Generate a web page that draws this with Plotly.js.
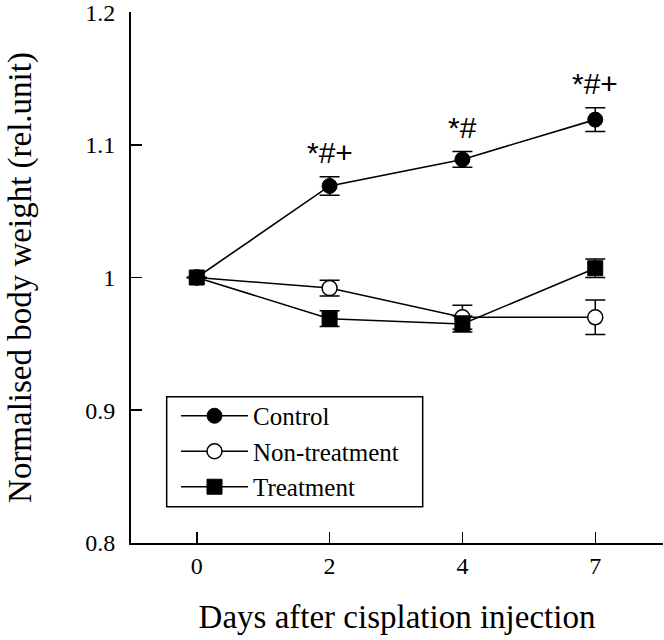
<!DOCTYPE html>
<html>
<head>
<meta charset="utf-8">
<script src="https://cdn.plot.ly/plotly-3.0.1.min.js"></script>
<style>html,body{margin:0;padding:0;background:#fff;}#chart{width:664px;height:640px;}</style>
</head>
<body>
<div id="chart"></div>
<script>
// Data
const days = ['0', '2', '4', '7'];
const dayIndex = [0, 1, 2, 3];
const controlMean = [1.000, 1.069, 1.089, 1.119];
const controlErr = [0, 0.007, 0.006, 0.009];
const nonTreatMean = [1.000, 0.992, 0.970, 0.970];
const nonTreatErr = [0, 0.006, 0.009, 0.013];
const treatMean = [1.000, 0.969, 0.965, 1.007];
const treatErr = [0, 0.006, 0.006, 0.007];
const sigLabels = ['', '*#+', '*#', '*#+'];
const yTickVals = [0.8, 0.9, 1.0, 1.1, 1.2];
const yTickText = ['0.8', '0.9', '1', '1.1', '1.2'];

const serif = 'Liberation Serif, Times New Roman, serif';
const sans = 'Liberation Sans, Arial, sans-serif';

function errBar(arr) {
  return {type: 'data', array: arr, visible: true, color: '#000', thickness: 1.5, width: 10};
}

const traces = [
  {
    x: dayIndex, y: controlMean, name: 'Control', type: 'scatter', mode: 'lines+markers',
    line: {color: '#000', width: 1.6},
    marker: {symbol: 'circle', size: 15, color: '#000', line: {color: '#000', width: 1}},
    error_y: errBar(controlErr)
  },
  {
    x: dayIndex, y: nonTreatMean, name: 'Non-treatment', type: 'scatter', mode: 'lines+markers',
    line: {color: '#000', width: 1.5},
    marker: {symbol: 'circle', size: 15, color: '#fff', line: {color: '#000', width: 1.5}},
    error_y: errBar(nonTreatErr)
  },
  {
    x: dayIndex, y: treatMean, name: 'Treatment', type: 'scatter', mode: 'lines+markers',
    line: {color: '#000', width: 1.5},
    marker: {symbol: 'square', size: 15, color: '#000', line: {color: '#000', width: 1}},
    error_y: errBar(treatErr)
  }
];

const annotations = [];
for (let i = 0; i < days.length; i++) {
  if (!sigLabels[i]) continue;
  annotations.push({
    x: dayIndex[i], y: controlMean[i] + controlErr[i] + 0.018,
    xref: 'x', yref: 'y', text: sigLabels[i], showarrow: false,
    xanchor: 'center', yanchor: 'middle',
    font: {family: sans, size: 30, color: '#000'}
  });
}

const layout = {
  width: 664, height: 640,
  margin: {l: 131, r: 1, t: 12, b: 97},
  paper_bgcolor: '#fff', plot_bgcolor: '#fff',
  showlegend: true,
  legend: {
    x: 0.0846, y: 0.2825, xanchor: 'left', yanchor: 'top',
    bgcolor: 'rgba(0,0,0,0)', borderwidth: 0,
    font: {family: serif, size: 25, color: '#000'},
    itemwidth: 67, tracegroupgap: 0
  },
  shapes: [{
    type: 'rect', xref: 'paper', yref: 'paper',
    x0: 0.0671, x1: 0.5483, y0: 0.0684, y1: 0.2755,
    line: {color: '#000', width: 1.5}, fillcolor: '#fff', layer: 'above'
  }],
  xaxis: {
    range: [-0.495, 3.51],
    tickmode: 'array', tickvals: dayIndex, ticktext: days,
    ticks: 'inside', ticklen: 11, tickwidth: 1.5, tickcolor: '#000',
    showline: true, linecolor: '#000', linewidth: 2,
    showgrid: false, zeroline: false,
    tickfont: {family: serif, size: 24, color: '#000'},
    title: {text: 'Days after cisplation injection', font: {family: serif, size: 33, color: '#000'}, standoff: 27}
  },
  yaxis: {
    range: [0.7999, 1.2001],
    tickmode: 'array', tickvals: yTickVals, ticktext: yTickText,
    ticks: 'inside', ticklen: 11, tickwidth: 1.5, tickcolor: '#000',
    ticklabelstandoff: 9, ticklabeloverflow: 'allow',
    showline: true, linecolor: '#000', linewidth: 2,
    showgrid: false, zeroline: false,
    tickfont: {family: serif, size: 24, color: '#000'},
    title: {text: 'Normalised body weight (rel.unit)', font: {family: serif, size: 33, color: '#000'}, standoff: 44}
  },
  annotations: annotations
};

Plotly.newPlot('chart', traces, layout, {displayModeBar: false, staticPlot: true});
</script>
</body>
</html>
